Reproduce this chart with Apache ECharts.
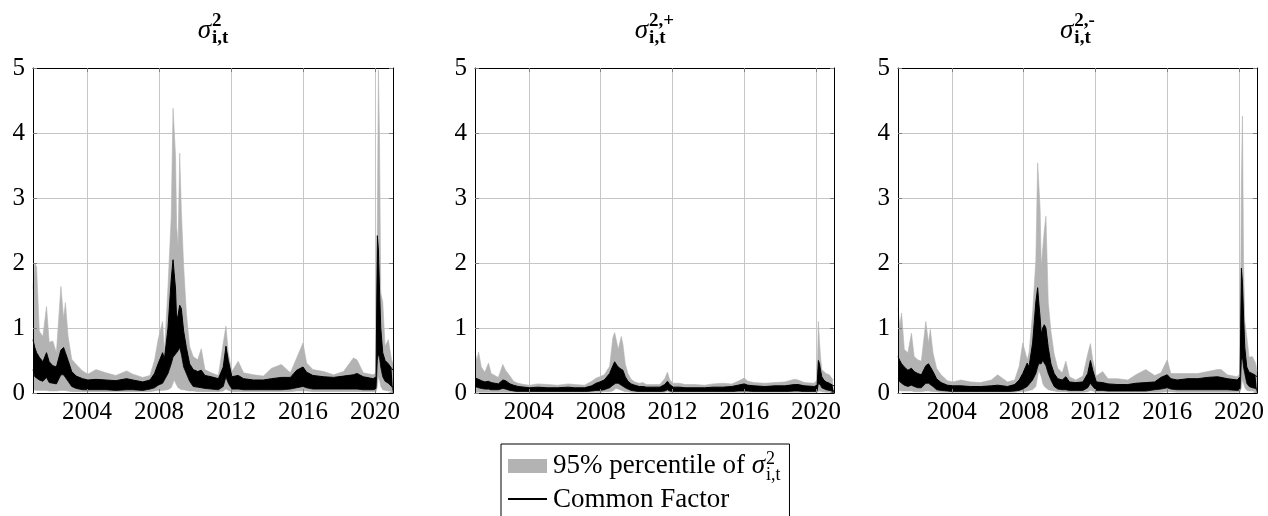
<!DOCTYPE html>
<html>
<head>
<meta charset="utf-8">
<script src="https://cdn.jsdelivr.net/npm/echarts@6/dist/echarts.min.js"></script>
<style>html,body{margin:0;padding:0;background:#fff}#c{width:1268px;height:516px}</style>
</head>
<body>
<div id="c"></div>
<script>
// ---------------- data ----------------
const years = [2001.0, 2001.1, 2001.2, 2001.35, 2001.55, 2001.75, 2001.9, 2002.1, 2002.3, 2002.55,
  2002.7, 2002.8, 2002.95, 2003.15, 2003.4, 2003.75, 2004.05, 2004.5, 2005.05, 2005.6,
  2006.2, 2006.55, 2007.1, 2007.5, 2007.75, 2007.95, 2008.2, 2008.3, 2008.5, 2008.68,
  2008.78, 2008.84, 2008.92, 2008.98, 2009.06, 2009.15, 2009.24, 2009.37, 2009.52, 2009.7,
  2009.9, 2010.15, 2010.35, 2010.55, 2010.9, 2011.3, 2011.57, 2011.72, 2011.85, 2012.05,
  2012.4, 2012.7, 2013.25, 2013.8, 2014.25, 2014.8, 2015.3, 2015.65, 2016.0, 2016.2,
  2016.55, 2017.15, 2017.7, 2018.25, 2018.8, 2019.0, 2019.35, 2019.9, 2020.06, 2020.13,
  2020.19, 2020.25, 2020.32, 2020.43, 2020.56, 2020.74, 2020.92, 2021.0];

// panel 1: sigma^2_{i,t}
const p1GrayHigh = [1.6, 2.0, 1.94, 0.95, 0.87, 1.33, 0.78, 0.8, 0.62, 1.64,
  1.15, 1.39, 0.87, 0.52, 0.44, 0.34, 0.29, 0.36, 0.31, 0.27,
  0.34, 0.29, 0.24, 0.27, 0.5, 0.82, 1.1, 0.62, 1.64, 2.72,
  4.38, 4.38, 3.64, 2.56, 2.26, 3.69, 2.82, 1.95, 1.23, 0.72,
  0.56, 0.51, 0.68, 0.36, 0.31, 0.27, 0.77, 1.03, 0.62, 0.33,
  0.49, 0.31, 0.28, 0.26, 0.38, 0.44, 0.31, 0.54, 0.77, 0.46,
  0.36, 0.33, 0.28, 0.33, 0.54, 0.51, 0.31, 0.28, 0.31, 2.56,
  4.97, 3.9, 1.54, 1.4, 0.72, 0.82, 0.51, 0.46];
const p1GrayLow = [0.05, 0.05, 0.04, 0.04, 0.04, 0.04, 0.03, 0.03, 0.03, 0.04,
  0.04, 0.04, 0.03, 0.02, 0.02, 0.02, 0.02, 0.02, 0.02, 0.02,
  0.02, 0.02, 0.02, 0.02, 0.03, 0.04, 0.04, 0.04, 0.05, 0.08,
  0.15, 0.2, 0.18, 0.12, 0.08, 0.06, 0.05, 0.05, 0.04, 0.03,
  0.03, 0.02, 0.02, 0.02, 0.02, 0.02, 0.03, 0.06, 0.04, 0.02,
  0.02, 0.02, 0.02, 0.02, 0.02, 0.02, 0.02, 0.03, 0.03, 0.03,
  0.02, 0.02, 0.02, 0.02, 0.02, 0.02, 0.02, 0.02, 0.02, 0.1,
  0.25, 0.2, 0.1, 0.05, 0.04, 0.03, 0.03, 0.03];
const p1FactorHigh = [0.82, 0.7, 0.62, 0.55, 0.48, 0.62, 0.48, 0.42, 0.4, 0.66,
  0.7, 0.62, 0.5, 0.33, 0.26, 0.22, 0.2, 0.21, 0.2, 0.19,
  0.22, 0.2, 0.17, 0.2, 0.3, 0.45, 0.62, 0.52, 1.0, 1.75,
  2.05, 1.85, 1.6, 1.1, 1.2, 1.35, 1.3, 0.95, 0.7, 0.45,
  0.36, 0.33, 0.35, 0.27, 0.25, 0.22, 0.4, 0.72, 0.5, 0.25,
  0.27, 0.22, 0.2, 0.2, 0.22, 0.24, 0.24, 0.35, 0.4, 0.32,
  0.27, 0.25, 0.24, 0.26, 0.28, 0.3, 0.25, 0.22, 0.25, 2.42,
  2.2, 1.6, 1.0, 0.62, 0.5, 0.45, 0.38, 0.35];
const p1FactorLow = [0.36, 0.25, 0.22, 0.2, 0.18, 0.24, 0.16, 0.15, 0.14, 0.28,
  0.28, 0.24, 0.18, 0.1, 0.07, 0.05, 0.05, 0.05, 0.05, 0.04,
  0.05, 0.05, 0.04, 0.06, 0.08, 0.12, 0.15, 0.2, 0.3, 0.45,
  0.55, 0.55, 0.6, 0.6, 0.65, 0.7, 0.6, 0.4, 0.3, 0.18,
  0.1, 0.09, 0.08, 0.07, 0.06, 0.05, 0.1, 0.25, 0.15, 0.06,
  0.06, 0.05, 0.05, 0.05, 0.05, 0.05, 0.06, 0.08, 0.1, 0.08,
  0.06, 0.06, 0.06, 0.06, 0.06, 0.06, 0.05, 0.05, 0.06, 0.5,
  0.6, 0.55, 0.4, 0.25, 0.18, 0.15, 0.1, 0.1];

// panel 2: sigma^{2,+}_{i,t}
const p2GrayHigh = [0.64, 0.5, 0.63, 0.4, 0.32, 0.46, 0.3, 0.27, 0.24, 0.44,
  0.35, 0.38, 0.26, 0.18, 0.15, 0.13, 0.12, 0.14, 0.13, 0.12,
  0.14, 0.13, 0.12, 0.18, 0.23, 0.25, 0.28, 0.3, 0.41, 0.85,
  0.93, 0.91, 0.75, 0.67, 0.7, 0.87, 0.75, 0.45, 0.3, 0.21,
  0.17, 0.15, 0.16, 0.13, 0.13, 0.13, 0.22, 0.32, 0.2, 0.15,
  0.15, 0.13, 0.13, 0.12, 0.14, 0.15, 0.14, 0.18, 0.23, 0.18,
  0.16, 0.15, 0.16, 0.17, 0.21, 0.2, 0.16, 0.15, 0.2, 1.1,
  0.8, 0.55, 0.36, 0.33, 0.3, 0.28, 0.21, 0.2];
const p2GrayLow = [0.01, 0.01, 0.01, 0.01, 0.01, 0.01, 0.01, 0.01, 0.01, 0.01,
  0.01, 0.01, 0.01, 0.01, 0.01, 0.01, 0.01, 0.01, 0.01, 0.01,
  0.01, 0.01, 0.01, 0.01, 0.01, 0.01, 0.02, 0.02, 0.02, 0.03,
  0.05, 0.07, 0.07, 0.06, 0.05, 0.04, 0.03, 0.02, 0.02, 0.01,
  0.01, 0.01, 0.01, 0.01, 0.01, 0.01, 0.01, 0.02, 0.01, 0.01,
  0.01, 0.01, 0.01, 0.01, 0.01, 0.01, 0.01, 0.01, 0.01, 0.01,
  0.01, 0.01, 0.01, 0.01, 0.01, 0.01, 0.01, 0.01, 0.01, 0.02,
  0.03, 0.03, 0.02, 0.02, 0.01, 0.01, 0.01, 0.01];
const p2FactorHigh = [0.23, 0.22, 0.21, 0.19, 0.17, 0.18, 0.16, 0.15, 0.14, 0.2,
  0.19, 0.17, 0.14, 0.12, 0.1, 0.09, 0.08, 0.09, 0.08, 0.08,
  0.09, 0.08, 0.08, 0.11, 0.15, 0.17, 0.2, 0.22, 0.3, 0.42,
  0.48, 0.46, 0.42, 0.4, 0.38, 0.38, 0.35, 0.25, 0.18, 0.14,
  0.12, 0.1, 0.1, 0.09, 0.09, 0.09, 0.13, 0.18, 0.13, 0.09,
  0.09, 0.08, 0.08, 0.08, 0.09, 0.09, 0.1, 0.12, 0.14, 0.12,
  0.11, 0.1, 0.11, 0.11, 0.13, 0.13, 0.11, 0.1, 0.12, 0.5,
  0.45, 0.35, 0.25, 0.2, 0.17, 0.15, 0.12, 0.11];
const p2FactorLow = [0.1, 0.09, 0.08, 0.07, 0.06, 0.06, 0.05, 0.05, 0.05, 0.07,
  0.06, 0.06, 0.04, 0.03, 0.02, 0.02, 0.02, 0.02, 0.02, 0.02,
  0.02, 0.02, 0.02, 0.03, 0.04, 0.04, 0.05, 0.05, 0.08, 0.12,
  0.15, 0.15, 0.15, 0.15, 0.14, 0.12, 0.1, 0.08, 0.06, 0.04,
  0.03, 0.02, 0.02, 0.02, 0.02, 0.02, 0.03, 0.05, 0.03, 0.02,
  0.02, 0.02, 0.02, 0.02, 0.02, 0.02, 0.02, 0.03, 0.03, 0.03,
  0.02, 0.02, 0.02, 0.02, 0.03, 0.03, 0.02, 0.02, 0.03, 0.15,
  0.15, 0.12, 0.08, 0.06, 0.05, 0.04, 0.03, 0.03];

// panel 3: sigma^{2,-}_{i,t}
const p3GrayHigh = [1.31, 1.03, 1.23, 0.67, 0.62, 0.92, 0.56, 0.51, 0.49, 1.1,
  0.77, 0.98, 0.62, 0.38, 0.28, 0.19, 0.17, 0.2, 0.17, 0.16,
  0.2, 0.28, 0.17, 0.2, 0.41, 0.77, 0.51, 0.62, 1.23, 2.05,
  3.54, 3.51, 2.82, 1.95, 1.95, 2.5, 2.72, 1.4, 0.95, 0.6,
  0.38, 0.31, 0.49, 0.25, 0.2, 0.26, 0.6, 0.76, 0.51, 0.26,
  0.33, 0.22, 0.22, 0.2, 0.28, 0.36, 0.27, 0.31, 0.51, 0.3,
  0.3, 0.3, 0.3, 0.33, 0.36, 0.36, 0.28, 0.25, 0.3, 3.23,
  4.26, 2.05, 1.1, 0.87, 0.55, 0.56, 0.46, 0.33];
const p3GrayLow = [0.04, 0.04, 0.03, 0.03, 0.03, 0.03, 0.02, 0.02, 0.02, 0.03,
  0.03, 0.03, 0.02, 0.02, 0.01, 0.01, 0.01, 0.01, 0.01, 0.01,
  0.01, 0.01, 0.01, 0.01, 0.02, 0.02, 0.03, 0.03, 0.05, 0.1,
  0.25, 0.35, 0.33, 0.25, 0.15, 0.1, 0.07, 0.05, 0.04, 0.03,
  0.02, 0.02, 0.02, 0.01, 0.01, 0.01, 0.02, 0.04, 0.03, 0.01,
  0.01, 0.01, 0.01, 0.01, 0.01, 0.01, 0.01, 0.01, 0.02, 0.02,
  0.01, 0.01, 0.01, 0.01, 0.01, 0.01, 0.01, 0.01, 0.02, 0.08,
  0.2, 0.15, 0.08, 0.04, 0.03, 0.03, 0.02, 0.02];
const p3FactorHigh = [0.56, 0.5, 0.45, 0.4, 0.35, 0.38, 0.33, 0.3, 0.28, 0.42,
  0.45, 0.42, 0.33, 0.22, 0.16, 0.12, 0.11, 0.11, 0.1, 0.1,
  0.11, 0.12, 0.1, 0.13, 0.2, 0.3, 0.46, 0.4, 0.77, 1.4,
  1.62, 1.4, 1.15, 0.9, 1.0, 1.05, 1.0, 0.7, 0.45, 0.3,
  0.22, 0.2, 0.25, 0.17, 0.16, 0.17, 0.3, 0.5, 0.35, 0.17,
  0.16, 0.14, 0.13, 0.13, 0.15, 0.16, 0.17, 0.24, 0.28, 0.22,
  0.2, 0.22, 0.22, 0.24, 0.25, 0.24, 0.22, 0.2, 0.25, 1.92,
  1.7, 1.2, 0.7, 0.4, 0.32, 0.3, 0.27, 0.25];
const p3FactorLow = [0.2, 0.17, 0.15, 0.12, 0.1, 0.12, 0.1, 0.08, 0.08, 0.15,
  0.15, 0.14, 0.1, 0.05, 0.04, 0.03, 0.02, 0.02, 0.02, 0.02,
  0.02, 0.02, 0.02, 0.03, 0.04, 0.06, 0.1, 0.1, 0.2, 0.3,
  0.4, 0.45, 0.45, 0.45, 0.5, 0.48, 0.42, 0.3, 0.2, 0.1,
  0.06, 0.05, 0.05, 0.04, 0.04, 0.04, 0.08, 0.15, 0.1, 0.04,
  0.04, 0.03, 0.03, 0.03, 0.03, 0.03, 0.05, 0.06, 0.08, 0.06,
  0.05, 0.05, 0.05, 0.05, 0.05, 0.05, 0.05, 0.04, 0.05, 0.5,
  0.55, 0.4, 0.3, 0.15, 0.1, 0.08, 0.07, 0.07];

const xTicks = [2004, 2008, 2012, 2016, 2020];
const yRange = [0, 5];
const xRange = [2001, 2021];
const titleSup = ['2', '2,+', '2,-'];
const titleSub = ['i,t', 'i,t', 'i,t'];
const legendBandName = '95% percentile of ';
const legendLineName = 'Common Factor';

const panels = [
  {gHi: p1GrayHigh, gLo: p1GrayLow, fHi: p1FactorHigh, fLo: p1FactorLow},
  {gHi: p2GrayHigh, gLo: p2GrayLow, fHi: p2FactorHigh, fLo: p2FactorLow},
  {gHi: p3GrayHigh, gLo: p3GrayLow, fHi: p3FactorHigh, fLo: p3FactorLow}
];

// ---------------- layout / style ----------------
const FONT = '"Liberation Serif", "Times New Roman", serif';
const GRAY = '#b3b3b3';
const GRID_COLOR = '#c6c6c6';
const TICK_COLOR = '#7f7f7f';
const grids = [
  {left: 33, top: 68, width: 360, height: 325},
  {left: 475, top: 68, width: 359, height: 325},
  {left: 898, top: 68, width: 359, height: 325}
];

const chart = echarts.init(document.getElementById('c'), null, {renderer: 'canvas'});

const xAxes = [], yAxes = [], series = [];
grids.forEach((g, i) => {
  const xc = {type: 'value', gridIndex: i, min: xRange[0], max: xRange[1]};
  // bottom axis: line, ticks, labels (drawn above the data)
  xAxes.push(Object.assign({}, xc, {
    position: 'bottom', z: 10,
    axisLine: {show: true, onZero: false, lineStyle: {color: '#000', width: 1}},
    axisTick: {show: true, inside: true, length: 4, customValues: xTicks, lineStyle: {color: TICK_COLOR}},
    axisLabel: {show: true, customValues: xTicks, formatter: v => String(v), color: '#000',
      fontFamily: FONT, fontSize: 25, margin: 7},
    splitLine: {show: false}
  }));
  // top axis: frame line, ticks and vertical grid lines (drawn below the data)
  xAxes.push(Object.assign({}, xc, {
    position: 'top', z: 0,
    axisLine: {show: true, onZero: false, lineStyle: {color: '#000', width: 1}},
    axisTick: {show: true, inside: true, length: 4, customValues: xTicks, lineStyle: {color: TICK_COLOR}},
    axisLabel: {show: false, customValues: xTicks},
    splitLine: {show: true, lineStyle: {color: GRID_COLOR, width: 1}}
  }));
  const yc = {type: 'value', gridIndex: i, min: yRange[0], max: yRange[1], interval: 1};
  yAxes.push(Object.assign({}, yc, {
    position: 'left', z: 10,
    axisLine: {show: true, onZero: false, lineStyle: {color: '#000', width: 1}},
    axisTick: {show: true, inside: true, length: 4, lineStyle: {color: TICK_COLOR}},
    axisLabel: {show: true, color: '#000', fontFamily: FONT, fontSize: 25, margin: 8},
    splitLine: {show: false}
  }));
  yAxes.push(Object.assign({}, yc, {
    position: 'right', z: 0,
    axisLine: {show: true, onZero: false, lineStyle: {color: '#000', width: 1}},
    axisTick: {show: true, inside: true, length: 4, lineStyle: {color: TICK_COLOR}},
    axisLabel: {show: false},
    splitLine: {show: true, lineStyle: {color: GRID_COLOR, width: 1}}
  }));

  const p = panels[i];
  const base = {type: 'line', xAxisIndex: 2 * i, yAxisIndex: 2 * i, symbol: 'none', showSymbol: false,
    animation: false, smooth: false};
  // layered areas: upper percentile (gray) -> factor upper (black) -> factor lower (gray) -> lower percentile (white)
  series.push(Object.assign({}, base, {
    name: '95% percentile', z: 2,
    data: years.map((x, k) => [x, p.gHi[k]]),
    lineStyle: {width: 0.6, color: GRAY}, itemStyle: {color: GRAY},
    areaStyle: {color: GRAY, opacity: 1}
  }));
  series.push(Object.assign({}, base, {
    name: 'Common Factor', z: 3,
    data: years.map((x, k) => [x, p.fHi[k]]),
    lineStyle: {width: 1, color: '#000'}, itemStyle: {color: '#000'},
    areaStyle: {color: '#000', opacity: 1}
  }));
  series.push(Object.assign({}, base, {
    name: 'Common Factor (low)', z: 4,
    data: years.map((x, k) => [x, p.fLo[k]]),
    lineStyle: {width: 0.8, color: '#000'}, itemStyle: {color: '#000'},
    areaStyle: {color: GRAY, opacity: 1}
  }));
  series.push(Object.assign({}, base, {
    name: '95% percentile (low)', z: 5,
    data: years.map((x, k) => [x, p.gLo[k]]),
    lineStyle: {width: 0.5, color: GRAY}, itemStyle: {color: GRAY},
    areaStyle: {color: '#fff', opacity: 1}
  }));
});

// ---------------- titles and legend (text elements) ----------------
const mctx = document.createElement('canvas').getContext('2d');
function tw(font, s) { mctx.font = font; return mctx.measureText(s).width; }
const fSig = 'italic 27px ' + FONT;
const fScr = 'bold 19px ' + FONT;
const TXT = {fill: '#000', textAlign: 'left', textVerticalAlign: 'middle', align: 'left', verticalAlign: 'middle'};
const graphics = [];
grids.forEach((g, i) => {
  const cx = g.left + g.width / 2;
  const wS = tw(fSig, 'σ');
  const wScr = Math.max(tw(fScr, titleSup[i]), tw(fScr, titleSub[i]));
  const x0 = cx - (wS + 1 + wScr) / 2;
  graphics.push({type: 'text', x: x0, y: 31, silent: true, style: Object.assign({text: 'σ', font: fSig}, TXT)});
  graphics.push({type: 'text', x: x0 + wS + 1, y: 21, silent: true, style: Object.assign({text: titleSup[i], font: fScr}, TXT)});
  graphics.push({type: 'text', x: x0 + wS + 1, y: 38, silent: true, style: Object.assign({text: titleSub[i], font: fScr}, TXT)});
});

const fLeg = '27px ' + FONT;
const fLegSig = 'italic 27px ' + FONT;
const fLegScr = '18px ' + FONT;
const legX = 501, legY = 444;
const textX = 553;
const wBand = tw(fLeg, legendBandName);
const wLS = tw(fLegSig, 'σ');
const legRight = textX + wBand + wLS + 1 + tw(fLegScr, 'i,t') + 9;
graphics.push({type: 'rect', silent: true, z: 10,
  shape: {x: legX, y: legY, width: legRight - legX, height: 100},
  style: {fill: '#fff', stroke: '#000', lineWidth: 1}});
graphics.push({type: 'rect', silent: true, z: 11,
  shape: {x: 508, y: 459, width: 39, height: 14}, style: {fill: GRAY}});
graphics.push({type: 'line', silent: true, z: 11,
  shape: {x1: 508, y1: 499, x2: 547, y2: 499}, style: {stroke: '#000', lineWidth: 1.8}});
const legTexts = [
  {x: textX, y: 466, text: legendBandName, font: fLeg},
  {x: textX + wBand, y: 466, text: 'σ', font: fLegSig},
  {x: textX + wBand + wLS + 1, y: 459, text: '2', font: fLegScr},
  {x: textX + wBand + wLS + 1, y: 475, text: 'i,t', font: fLegScr},
  {x: textX, y: 500, text: legendLineName, font: fLeg}
];
legTexts.forEach(t => graphics.push({type: 'text', x: t.x, y: t.y, silent: true, z: 12,
  style: Object.assign({text: t.text, font: t.font}, TXT)}));

chart.setOption({
  animation: false,
  backgroundColor: '#fff',
  grid: grids.map(g => Object.assign({containLabel: false}, g)),
  xAxis: xAxes,
  yAxis: yAxes,
  series: series,
  graphic: {elements: graphics}
});
</script>
</body>
</html>
